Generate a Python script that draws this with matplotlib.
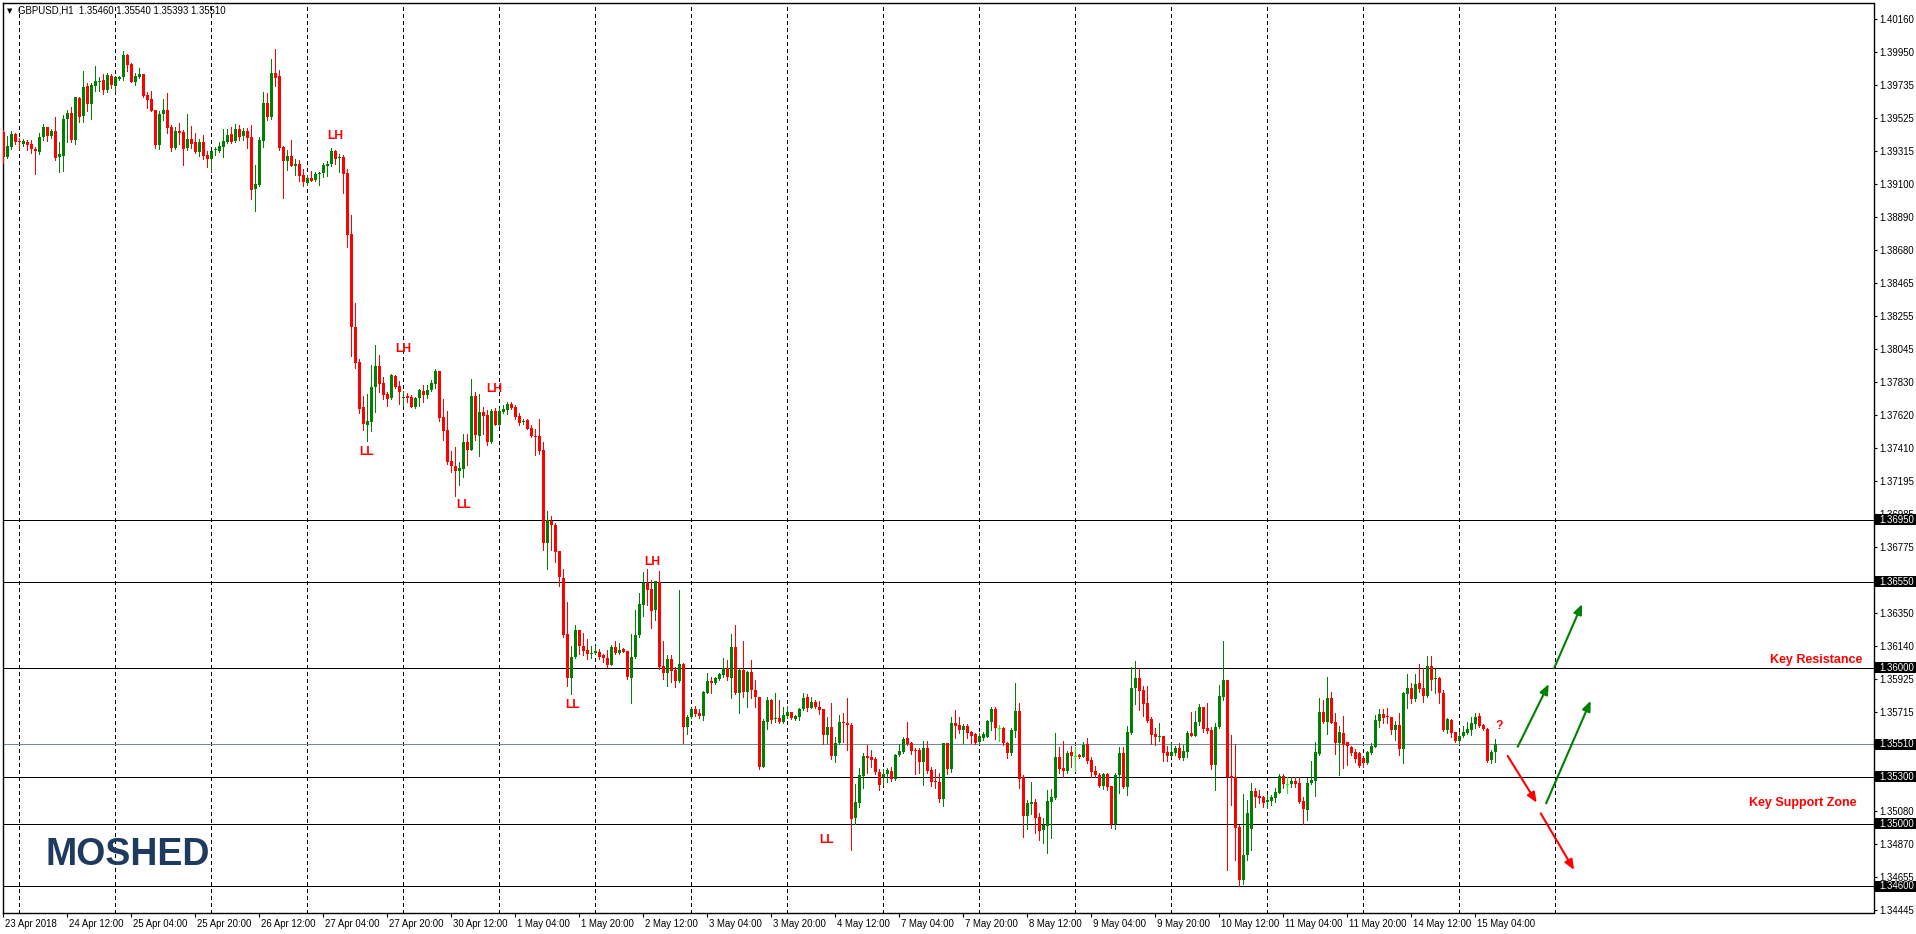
import matplotlib
matplotlib.use('Agg')
import matplotlib.pyplot as plt
import matplotlib.transforms as mtransforms
from matplotlib.patches import Rectangle
import numpy as np
import pandas as pd

plt.rcParams['lines.scale_dashes'] = False
FONT = 'Liberation Sans'

# ---------------- data ----------------
symbol = 'GBPUSD,H1'
first_bar = '2018-04-23 20:00'
trading_days = ['2018-04-23', '2018-04-24', '2018-04-25', '2018-04-26', '2018-04-27',
                '2018-04-30', '2018-05-01', '2018-05-02', '2018-05-03', '2018-05-04',
                '2018-05-07', '2018-05-08', '2018-05-09', '2018-05-10', '2018-05-11',
                '2018-05-14', '2018-05-15']

open_ = [
    1.39437, 1.39277, 1.39341, 1.39420, 1.39373, 1.39360, 1.39373, 1.39358, 1.39328, 1.39309,
    1.39405, 1.39465, 1.39409, 1.39441, 1.39272, 1.39283, 1.39518, 1.39557, 1.39386, 1.39653,
    1.39538, 1.39730, 1.39617, 1.39732, 1.39758, 1.39768, 1.39704, 1.39794, 1.39732, 1.39775,
    1.39786, 1.39929, 1.39871, 1.39758, 1.39790, 1.39807, 1.39672, 1.39644, 1.39576, 1.39352,
    1.39550, 1.39576, 1.39465, 1.39334, 1.39441, 1.39435, 1.39330, 1.39390, 1.39369, 1.39309,
    1.39371, 1.39287, 1.39260, 1.39317, 1.39313, 1.39341, 1.39373, 1.39422, 1.39379, 1.39452,
    1.39409, 1.39441, 1.39403, 1.39069, 1.39097, 1.39379, 1.39621, 1.39533, 1.39813, 1.39794,
    1.39337, 1.39251, 1.39281, 1.39219, 1.39230, 1.39159, 1.39110, 1.39140, 1.39126, 1.39163,
    1.39170, 1.39220, 1.39227, 1.39313, 1.39266, 1.39275, 1.39173, 1.38781, 1.38184, 1.37960,
    1.37671, 1.37559, 1.37578, 1.37802, 1.37932, 1.37825, 1.37757, 1.37727, 1.37869, 1.37806,
    1.37727, 1.37741, 1.37736, 1.37671, 1.37727, 1.37776, 1.37750, 1.37778, 1.37820, 1.37902,
    1.37610, 1.37524, 1.37326, 1.37293, 1.37263, 1.37275, 1.37447, 1.37396, 1.37741, 1.37489,
    1.37638, 1.37620, 1.37447, 1.37648, 1.37559, 1.37638, 1.37652, 1.37694, 1.37671, 1.37613,
    1.37573, 1.37589, 1.37536, 1.37484, 1.37484, 1.37396, 1.36799, 1.36941, 1.36916, 1.36748,
    1.36575, 1.36216, 1.35931, 1.36067, 1.36239, 1.36141, 1.36113, 1.36090, 1.36095, 1.36100,
    1.36081, 1.36062, 1.36017, 1.36130, 1.36096, 1.36120, 1.36107, 1.35936, 1.36066, 1.36209,
    1.36402, 1.36545, 1.36502, 1.36370, 1.36551, 1.36010, 1.35963, 1.36053, 1.35985, 1.35916,
    1.36021, 1.35621, 1.35681, 1.35733, 1.35711, 1.35690, 1.35840, 1.35914, 1.35899, 1.35927,
    1.35951, 1.36000, 1.35931, 1.36135, 1.35840, 1.35985, 1.35844, 1.35972, 1.35857, 1.35814,
    1.35365, 1.35654, 1.35792, 1.35668, 1.35675, 1.35654, 1.35690, 1.35713, 1.35673, 1.35686,
    1.35733, 1.35810, 1.35741, 1.35780, 1.35745, 1.35733, 1.35568, 1.35617, 1.35433, 1.35515,
    1.35651, 1.35647, 1.35632, 1.35034, 1.35130, 1.35305, 1.35433, 1.35427, 1.35414, 1.35331,
    1.35296, 1.35318, 1.35337, 1.35286, 1.35440, 1.35461, 1.35547, 1.35519, 1.35472, 1.35472,
    1.35398, 1.35483, 1.35344, 1.35269, 1.35269, 1.35158, 1.35515, 1.35348, 1.35648, 1.35632,
    1.35601, 1.35628, 1.35590, 1.35575, 1.35526, 1.35547, 1.35558, 1.35654, 1.35737, 1.35609,
    1.35611, 1.35519, 1.35451, 1.35596, 1.35722, 1.35301, 1.35049, 1.35126, 1.35137, 1.35040,
    1.34959, 1.34987, 1.35141, 1.35163, 1.35427, 1.35355, 1.35340, 1.35457, 1.35432, 1.35438,
    1.35430, 1.35511, 1.35408, 1.35338, 1.35312, 1.35241, 1.35316, 1.35241, 1.34998, 1.35312,
    1.35455, 1.35233, 1.35579, 1.35868, 1.35936, 1.35857, 1.35772, 1.35671, 1.35575, 1.35554,
    1.35562, 1.35460, 1.35434, 1.35455, 1.35483, 1.35423, 1.35462, 1.35584, 1.35564, 1.35650,
    1.35750, 1.35611, 1.35601, 1.35376, 1.35617, 1.35814, 1.35921, 1.35305, 1.35297, 1.34980,
    1.34638, 1.34799, 1.34967, 1.35209, 1.35177, 1.35170, 1.35141, 1.35145, 1.35166, 1.35198,
    1.35305, 1.35254, 1.35252, 1.35273, 1.35258, 1.35145, 1.35087, 1.35262, 1.35275, 1.35446,
    1.35718, 1.35654, 1.35803, 1.35652, 1.35519, 1.35583, 1.35521, 1.35493, 1.35461, 1.35455,
    1.35418, 1.35386, 1.35455, 1.35493, 1.35660, 1.35703, 1.35686, 1.35682, 1.35600, 1.35632,
    1.35478, 1.35831, 1.35867, 1.35797, 1.35900, 1.35867, 1.35818, 1.36011, 1.35925, 1.35934,
    1.35835, 1.35600, 1.35664, 1.35585, 1.35532, 1.35562, 1.35583, 1.35600, 1.35639, 1.35690,
    1.35632, 1.35607, 1.35408, 1.35460]

high = [
    1.39448, 1.39409, 1.39441, 1.39426, 1.39394, 1.39390, 1.39384, 1.39384, 1.39337, 1.39426,
    1.39486, 1.39465, 1.39454, 1.39529, 1.39373, 1.39546, 1.39576, 1.39597, 1.39659, 1.39662,
    1.39826, 1.39747, 1.39751, 1.39858, 1.39790, 1.39807, 1.39811, 1.39805, 1.39794, 1.39794,
    1.39954, 1.39933, 1.39880, 1.39811, 1.39843, 1.39807, 1.39694, 1.39698, 1.39576, 1.39572,
    1.39644, 1.39683, 1.39480, 1.39465, 1.39490, 1.39448, 1.39550, 1.39473, 1.39426, 1.39390,
    1.39414, 1.39313, 1.39313, 1.39337, 1.39369, 1.39452, 1.39452, 1.39465, 1.39484, 1.39480,
    1.39458, 1.39463, 1.39480, 1.39223, 1.39405, 1.39691, 1.39683, 1.39903, 1.39967, 1.39833,
    1.39345, 1.39319, 1.39384, 1.39260, 1.39255, 1.39198, 1.39159, 1.39184, 1.39177, 1.39180,
    1.39238, 1.39250, 1.39331, 1.39320, 1.39292, 1.39289, 1.39198, 1.38905, 1.38338, 1.37979,
    1.37741, 1.37757, 1.37944, 1.38072, 1.38007, 1.37867, 1.37769, 1.37881, 1.37874, 1.37839,
    1.37774, 1.37764, 1.37746, 1.37734, 1.37788, 1.37816, 1.37816, 1.37844, 1.37918, 1.37904,
    1.37722, 1.37645, 1.37391, 1.37414, 1.37321, 1.37498, 1.37498, 1.37851, 1.37767, 1.37753,
    1.37671, 1.37652, 1.37657, 1.37664, 1.37664, 1.37687, 1.37704, 1.37704, 1.37687, 1.37634,
    1.37596, 1.37594, 1.37554, 1.37531, 1.37594, 1.37447, 1.37004, 1.36976, 1.36929, 1.36750,
    1.36631, 1.36421, 1.36137, 1.36276, 1.36239, 1.36221, 1.36183, 1.36137, 1.36137, 1.36123,
    1.36090, 1.36113, 1.36143, 1.36171, 1.36156, 1.36128, 1.36107, 1.36214, 1.36370, 1.36477,
    1.36611, 1.36631, 1.36562, 1.36556, 1.36620, 1.36173, 1.36081, 1.36081, 1.36006, 1.36498,
    1.36028, 1.35696, 1.35739, 1.35754, 1.35733, 1.35852, 1.35964, 1.35942, 1.35942, 1.35964,
    1.36060, 1.36049, 1.36216, 1.36274, 1.35996, 1.36173, 1.35981, 1.36049, 1.35921, 1.35814,
    1.35668, 1.35814, 1.35799, 1.35835, 1.35792, 1.35745, 1.35754, 1.35718, 1.35696, 1.35739,
    1.35835, 1.35831, 1.35814, 1.35792, 1.35786, 1.35733, 1.35681, 1.35775, 1.35553, 1.35696,
    1.35711, 1.35803, 1.35647, 1.35252, 1.35358, 1.35450, 1.35504, 1.35472, 1.35429, 1.35348,
    1.35348, 1.35354, 1.35361, 1.35446, 1.35510, 1.35557, 1.35654, 1.35526, 1.35483, 1.35483,
    1.35530, 1.35530, 1.35365, 1.35348, 1.35323, 1.35519, 1.35519, 1.35682, 1.35729, 1.35682,
    1.35637, 1.35639, 1.35596, 1.35579, 1.35579, 1.35590, 1.35665, 1.35746, 1.35750, 1.35633,
    1.35618, 1.35526, 1.35611, 1.35900, 1.35772, 1.35312, 1.35152, 1.35265, 1.35156, 1.35066,
    1.35034, 1.35216, 1.35220, 1.35581, 1.35494, 1.35530, 1.35466, 1.35498, 1.35489, 1.35447,
    1.35526, 1.35547, 1.35430, 1.35370, 1.35323, 1.35327, 1.35323, 1.35244, 1.35323, 1.35494,
    1.35494, 1.35628, 1.36007, 1.36043, 1.35996, 1.35883, 1.35883, 1.35686, 1.35611, 1.35643,
    1.35564, 1.35498, 1.35515, 1.35498, 1.35515, 1.35504, 1.35594, 1.35714, 1.35722, 1.35767,
    1.35750, 1.35772, 1.35618, 1.35647, 1.35889, 1.36171, 1.35921, 1.35568, 1.35510, 1.34990,
    1.35190, 1.35151, 1.35258, 1.35226, 1.35215, 1.35177, 1.35190, 1.35183, 1.35226, 1.35316,
    1.35318, 1.35297, 1.35301, 1.35297, 1.35301, 1.35173, 1.35290, 1.35401, 1.35525, 1.35805,
    1.35793, 1.35942, 1.35846, 1.35707, 1.35626, 1.35690, 1.35525, 1.35498, 1.35476, 1.35461,
    1.35429, 1.35468, 1.35519, 1.35696, 1.35733, 1.35733, 1.35739, 1.35686, 1.35660, 1.35707,
    1.35846, 1.35959, 1.35904, 1.35959, 1.36024, 1.35996, 1.36075, 1.36075, 1.35989, 1.35938,
    1.35857, 1.35675, 1.35669, 1.35589, 1.35589, 1.35626, 1.35654, 1.35686, 1.35711, 1.35711,
    1.35639, 1.35611, 1.35472, 1.35540]

low = [
    1.39238, 1.39270, 1.39328, 1.39356, 1.39328, 1.39345, 1.39319, 1.39302, 1.39166, 1.39294,
    1.39384, 1.39379, 1.39394, 1.39255, 1.39180, 1.39187, 1.39373, 1.39373, 1.39360, 1.39501,
    1.39501, 1.39572, 1.39516, 1.39700, 1.39700, 1.39679, 1.39694, 1.39719, 1.39700, 1.39768,
    1.39768, 1.39828, 1.39756, 1.39736, 1.39783, 1.39662, 1.39591, 1.39570, 1.39330, 1.39324,
    1.39512, 1.39426, 1.39315, 1.39324, 1.39358, 1.39225, 1.39319, 1.39330, 1.39298, 1.39279,
    1.39264, 1.39213, 1.39176, 1.39285, 1.39304, 1.39277, 1.39362, 1.39362, 1.39373, 1.39384,
    1.39384, 1.39334, 1.39005, 1.38930, 1.39091, 1.39341, 1.39512, 1.39516, 1.39730, 1.39319,
    1.39014, 1.39191, 1.39217, 1.39159, 1.39123, 1.39091, 1.39095, 1.39124, 1.39122, 1.39098,
    1.39145, 1.39156, 1.39219, 1.39231, 1.39180, 1.39047, 1.38697, 1.37998, 1.37921, 1.37636,
    1.37524, 1.37454, 1.37517, 1.37638, 1.37769, 1.37722, 1.37680, 1.37722, 1.37792, 1.37694,
    1.37676, 1.37704, 1.37671, 1.37664, 1.37676, 1.37704, 1.37727, 1.37774, 1.37792, 1.37582,
    1.37461, 1.37307, 1.37256, 1.37102, 1.37172, 1.37221, 1.37298, 1.37396, 1.37459, 1.37359,
    1.37501, 1.37429, 1.37442, 1.37554, 1.37547, 1.37631, 1.37624, 1.37657, 1.37594, 1.37559,
    1.37564, 1.37531, 1.37477, 1.37366, 1.37373, 1.36755, 1.36633, 1.36755, 1.36680, 1.36521,
    1.36195, 1.35880, 1.35833, 1.36062, 1.36090, 1.36081, 1.36053, 1.36062, 1.36085, 1.36057,
    1.36039, 1.35997, 1.36017, 1.36088, 1.36088, 1.36098, 1.35927, 1.35775, 1.36062, 1.36194,
    1.36331, 1.36402, 1.36252, 1.36306, 1.35989, 1.35925, 1.35884, 1.35910, 1.35874, 1.35910,
    1.35519, 1.35572, 1.35675, 1.35692, 1.35675, 1.35664, 1.35835, 1.35835, 1.35895, 1.35921,
    1.35942, 1.35921, 1.35807, 1.35831, 1.35707, 1.35814, 1.35745, 1.35803, 1.35750, 1.35348,
    1.35361, 1.35604, 1.35643, 1.35654, 1.35647, 1.35647, 1.35677, 1.35668, 1.35664, 1.35664,
    1.35728, 1.35724, 1.35739, 1.35739, 1.35701, 1.35510, 1.35515, 1.35412, 1.35397, 1.35508,
    1.35525, 1.35472, 1.34830, 1.34995, 1.35104, 1.35228, 1.35326, 1.35365, 1.35318, 1.35215,
    1.35247, 1.35269, 1.35275, 1.35279, 1.35433, 1.35455, 1.35504, 1.35447, 1.35318, 1.35327,
    1.35248, 1.35323, 1.35241, 1.35231, 1.35137, 1.35113, 1.35318, 1.35331, 1.35547, 1.35579,
    1.35519, 1.35547, 1.35515, 1.35511, 1.35519, 1.35536, 1.35554, 1.35601, 1.35543, 1.35532,
    1.35502, 1.35423, 1.35440, 1.35558, 1.35226, 1.34916, 1.34968, 1.35062, 1.34942, 1.34895,
    1.34878, 1.34814, 1.34910, 1.35156, 1.35323, 1.35297, 1.35327, 1.35365, 1.35340, 1.35423,
    1.35425, 1.35391, 1.35301, 1.35297, 1.35233, 1.35220, 1.35216, 1.34970, 1.34963, 1.35194,
    1.35226, 1.35182, 1.35573, 1.35767, 1.35729, 1.35693, 1.35654, 1.35511, 1.35504, 1.35532,
    1.35404, 1.35404, 1.35430, 1.35440, 1.35415, 1.35408, 1.35430, 1.35562, 1.35562, 1.35633,
    1.35590, 1.35579, 1.35350, 1.35215, 1.35611, 1.35793, 1.34703, 1.35119, 1.34767, 1.34600,
    1.34613, 1.34767, 1.34831, 1.35108, 1.35130, 1.35108, 1.35098, 1.35119, 1.35141, 1.35194,
    1.35226, 1.35198, 1.35237, 1.35237, 1.35134, 1.34997, 1.35023, 1.35252, 1.35177, 1.35440,
    1.35647, 1.35575, 1.35643, 1.35446, 1.35314, 1.35354, 1.35376, 1.35440, 1.35397, 1.35365,
    1.35365, 1.35382, 1.35446, 1.35489, 1.35622, 1.35643, 1.35647, 1.35575, 1.35536, 1.35440,
    1.35391, 1.35739, 1.35771, 1.35788, 1.35846, 1.35782, 1.35810, 1.35857, 1.35835, 1.35776,
    1.35596, 1.35579, 1.35557, 1.35525, 1.35519, 1.35557, 1.35575, 1.35568, 1.35611, 1.35617,
    1.35600, 1.35397, 1.35391, 1.35393]

close = [
    1.39277, 1.39345, 1.39420, 1.39373, 1.39371, 1.39377, 1.39352, 1.39324, 1.39313, 1.39405,
    1.39465, 1.39411, 1.39441, 1.39268, 1.39294, 1.39518, 1.39557, 1.39386, 1.39659, 1.39533,
    1.39724, 1.39617, 1.39736, 1.39760, 1.39764, 1.39704, 1.39801, 1.39736, 1.39790, 1.39786,
    1.39929, 1.39865, 1.39758, 1.39794, 1.39807, 1.39668, 1.39640, 1.39572, 1.39352, 1.39550,
    1.39576, 1.39463, 1.39334, 1.39441, 1.39431, 1.39326, 1.39390, 1.39358, 1.39309, 1.39373,
    1.39281, 1.39264, 1.39313, 1.39326, 1.39345, 1.39377, 1.39416, 1.39373, 1.39454, 1.39405,
    1.39443, 1.39399, 1.39065, 1.39101, 1.39384, 1.39621, 1.39533, 1.39813, 1.39783, 1.39330,
    1.39251, 1.39281, 1.39219, 1.39230, 1.39155, 1.39114, 1.39140, 1.39124, 1.39163, 1.39173,
    1.39224, 1.39229, 1.39313, 1.39261, 1.39278, 1.39168, 1.38776, 1.38184, 1.37956, 1.37662,
    1.37564, 1.37582, 1.37799, 1.37932, 1.37820, 1.37750, 1.37722, 1.37876, 1.37802, 1.37769,
    1.37736, 1.37732, 1.37673, 1.37729, 1.37781, 1.37750, 1.37783, 1.37825, 1.37904, 1.37601,
    1.37517, 1.37317, 1.37293, 1.37263, 1.37279, 1.37449, 1.37396, 1.37741, 1.37494, 1.37638,
    1.37615, 1.37447, 1.37648, 1.37554, 1.37648, 1.37662, 1.37694, 1.37664, 1.37610, 1.37571,
    1.37582, 1.37531, 1.37489, 1.37480, 1.37391, 1.36799, 1.36946, 1.36918, 1.36743, 1.36580,
    1.36207, 1.35936, 1.36067, 1.36239, 1.36141, 1.36109, 1.36085, 1.36095, 1.36104, 1.36071,
    1.36060, 1.36020, 1.36135, 1.36096, 1.36113, 1.36102, 1.35942, 1.36066, 1.36209, 1.36408,
    1.36545, 1.36498, 1.36365, 1.36556, 1.36006, 1.35968, 1.36053, 1.35981, 1.35916, 1.36021,
    1.35621, 1.35686, 1.35733, 1.35703, 1.35690, 1.35844, 1.35914, 1.35899, 1.35931, 1.35957,
    1.36000, 1.35938, 1.36135, 1.35840, 1.35985, 1.35844, 1.35974, 1.35857, 1.35810, 1.35365,
    1.35658, 1.35792, 1.35664, 1.35675, 1.35654, 1.35696, 1.35713, 1.35675, 1.35690, 1.35733,
    1.35803, 1.35739, 1.35780, 1.35745, 1.35728, 1.35568, 1.35617, 1.35433, 1.35515, 1.35651,
    1.35647, 1.35630, 1.35027, 1.35136, 1.35309, 1.35433, 1.35420, 1.35408, 1.35329, 1.35247,
    1.35318, 1.35343, 1.35284, 1.35440, 1.35465, 1.35542, 1.35510, 1.35468, 1.35468, 1.35398,
    1.35483, 1.35340, 1.35269, 1.35265, 1.35158, 1.35515, 1.35348, 1.35648, 1.35628, 1.35601,
    1.35628, 1.35584, 1.35564, 1.35519, 1.35564, 1.35575, 1.35658, 1.35737, 1.35611, 1.35609,
    1.35515, 1.35455, 1.35601, 1.35722, 1.35286, 1.35049, 1.35130, 1.35137, 1.35038, 1.34955,
    1.34991, 1.35145, 1.35169, 1.35427, 1.35350, 1.35338, 1.35455, 1.35434, 1.35432, 1.35430,
    1.35504, 1.35402, 1.35333, 1.35312, 1.35241, 1.35318, 1.35237, 1.34998, 1.35312, 1.35455,
    1.35233, 1.35586, 1.35868, 1.35936, 1.35853, 1.35767, 1.35660, 1.35571, 1.35554, 1.35562,
    1.35455, 1.35436, 1.35457, 1.35483, 1.35423, 1.35466, 1.35584, 1.35564, 1.35650, 1.35750,
    1.35607, 1.35596, 1.35376, 1.35622, 1.35818, 1.35921, 1.35301, 1.35290, 1.34974, 1.34638,
    1.34799, 1.35066, 1.35209, 1.35173, 1.35166, 1.35134, 1.35151, 1.35173, 1.35205, 1.35305,
    1.35252, 1.35254, 1.35273, 1.35252, 1.35141, 1.35091, 1.35262, 1.35279, 1.35461, 1.35718,
    1.35654, 1.35803, 1.35647, 1.35519, 1.35587, 1.35504, 1.35498, 1.35455, 1.35412, 1.35371,
    1.35386, 1.35461, 1.35498, 1.35664, 1.35703, 1.35679, 1.35682, 1.35600, 1.35632, 1.35478,
    1.35835, 1.35867, 1.35797, 1.35895, 1.35861, 1.35818, 1.36011, 1.35921, 1.35934, 1.35835,
    1.35600, 1.35671, 1.35583, 1.35532, 1.35562, 1.35587, 1.35607, 1.35643, 1.35686, 1.35626,
    1.35604, 1.35403, 1.35459, 1.35510]

level_lines = [1.36950, 1.36550, 1.36000, 1.35300, 1.35000, 1.34600]
bid_price = 1.35510
price_axis_labels = ['1.40160', '1.39950', '1.39735', '1.39525', '1.39315', '1.39100',
                     '1.38890', '1.38680', '1.38465', '1.38255', '1.38045', '1.37830',
                     '1.37620', '1.37410', '1.37195', '1.36985', '1.36775', '1.36350',
                     '1.36140', '1.35925', '1.35715', '1.35080', '1.34870', '1.34655',
                     '1.34445']
swing_texts = ['LH', 'LH', 'LH', 'LL', 'LL', 'LH', 'LL', 'LL', '?']
zone_texts = ['Key Resistance', 'Key Support Zone']
logo_text = 'MOSHED'

# ---------------- layout ----------------
W, H, DPI = 1916, 934, 100
GREEN, RED, LIME = '#008000', '#ff0000', '#00ff00'
ONE_PX = 72 / DPI

n = len(close)
hours = pd.DatetimeIndex([pd.Timestamp(d) + pd.Timedelta(hours=hh)
                          for d in trading_days for hh in range(24)])
times = hours[hours >= pd.Timestamp(first_bar)][:n]
x = np.arange(n)

fig = plt.figure(figsize=(W / DPI, H / DPI), dpi=DPI)
fig.patch.set_facecolor('white')
L, R, T, B = 2.5, 1873.5, 3.0, 912.5
ax = fig.add_axes([L / W, 1 - B / H, (R - L) / W, (B - T) / H])
ax.set_facecolor('white')

y_top, y_bot = 1.402626, 1.344301
ax.set_xlim(-0.2, 467.55)
ax.set_ylim(y_bot, y_top)
ppx = (y_top - y_bot) / (B - T)   # price per pixel

o = np.array(open_); h = np.array(high); l = np.array(low); c = np.array(close)
cols = np.where(c > o, GREEN, np.where(c < o, RED, LIME))

# vertical day grid (dashed)
day_starts = list(x[times.hour == 0])
day_starts.append(n - 1 + (24 - times[-1].hour))
for xd in day_starts:
    ax.axvline(xd, color='black', lw=ONE_PX, linestyle=(0, (2.2, 2.2)),
               antialiased=False, zorder=1)

# level lines
for lv in level_lines:
    ax.axhline(lv, color='black', lw=ONE_PX, antialiased=False, zorder=2)
ax.axhline(bid_price, color='#778899', lw=ONE_PX, antialiased=False, zorder=2)

# candles
ax.vlines(x, l, h, colors=cols, lw=ONE_PX, antialiased=False, zorder=3)
body_h = np.maximum(np.abs(c - o), ppx)
body_b = np.where(np.abs(c - o) < ppx, (o + c) / 2 - ppx / 2, np.minimum(o, c))
ax.bar(x, body_h, bottom=body_b, width=0.8, color=cols, linewidth=0,
       antialiased=False, zorder=4)

# spines
for s in ax.spines.values():
    s.set_color('black'); s.set_linewidth(1.0)

# price axis
ax.yaxis.tick_right()
ax.set_yticks([float(s) for s in price_axis_labels])
ax.set_yticklabels(price_axis_labels)
ax.tick_params(axis='y', direction='out', length=2.5, width=0.8, pad=1.8,
               labelsize=6.9, colors='black')
for lab in ax.get_yticklabels():
    lab.set_family(FONT)

# time axis
lab_idx = list(range(0, n, 16))
lab_txt = []
for k in lab_idx:
    t = times[k]
    if k == 0:
        lab_txt.append(f"{t.day} {t.strftime('%b %Y')}")
    else:
        lab_txt.append(f"{t.day} {t.strftime('%b %H:%M')}")
ax.set_xticks(lab_idx)
ax.set_xticklabels(lab_txt, ha='left')
ax.tick_params(axis='x', direction='out', length=3, width=0.8, pad=1.5,
               labelsize=6.9, colors='black')
shift = mtransforms.ScaledTranslation(2 / DPI, 0, fig.dpi_scale_trans)
for lab in ax.get_xticklabels():
    lab.set_family(FONT)
    lab.set_transform(lab.get_transform() + shift)

# highlighted price boxes
bt = mtransforms.blended_transform_factory(fig.transFigure, ax.transData)
for lv in level_lines + [bid_price]:
    fig.add_artist(Rectangle((1875 / W, lv - 5.5 * ppx), 41 / W, 11 * ppx,
                             transform=bt, facecolor='black', edgecolor='none', zorder=10))
    fig.text(1879 / W, lv, f'{lv:.5f}', transform=bt, color='white', fontsize=6.9,
             family=FONT, va='center', ha='left', zorder=11)

# title
fig.text(9.5 / W, 1 - 11 / H, '\u25bc', fontsize=5, ha='center', va='center',
         family='DejaVu Sans', color='black')
fig.text(18 / W, 1 - 10.7 / H,
         f"{symbol}  {open_[-1]:.5f} {high[-1]:.5f} {low[-1]:.5f} {close[-1]:.5f}",
         fontsize=6.9, family=FONT, va='center', ha='left', color='black')

# swing labels
swing_pos = [(82.9, 1.39410), (99.9, 1.38044), (122.8, 1.37790), (90.9, 1.37383),
             (115.05, 1.37043), (162.3, 1.36681), (142.4, 1.35761), (205.8, 1.34895),
             (373.85, 1.35626)]
for txt, (xp, yp) in zip(swing_texts, swing_pos):
    ax.text(xp, yp, txt, color=RED, fontsize=8.7, fontweight='bold', family=FONT,
            ha='center', va='center', zorder=6)

zone_pos = [(464.7, 1.36049), (463.4, 1.35132)]
for txt, (xp, yp) in zip(zone_texts, zone_pos):
    ax.text(xp, yp, txt, color=RED, fontsize=9, fontweight='bold', family=FONT,
            ha='right', va='center', zorder=6)

# scenario arrows
arrows = [((378.6, 1.35493), (386.35, 1.35895), GREEN),
          ((387.7, 1.35996), (394.7, 1.36408), GREEN),
          ((385.7, 1.35130), (396.85, 1.35788), GREEN),
          ((376.1, 1.35434), (383.35, 1.35134), RED),
          ((384.35, 1.35066), (392.7, 1.34703), RED)]
for (x0, y0), (x1, y1), col in arrows:
    ax.annotate('', xy=(x1, y1), xytext=(x0, y0),
                arrowprops=dict(arrowstyle='-|>,head_length=0.6,head_width=0.25',
                                color=col, lw=1.5, shrinkA=0, shrinkB=0,
                                mutation_scale=10), zorder=7)

# logo
fig.text(46 / W, 1 - 855 / H, logo_text, fontsize=27, fontweight='bold', family=FONT,
         color='#1f3a5f', ha='left', va='center', zorder=8)

fig.savefig('out.png', dpi=DPI, facecolor='white')
